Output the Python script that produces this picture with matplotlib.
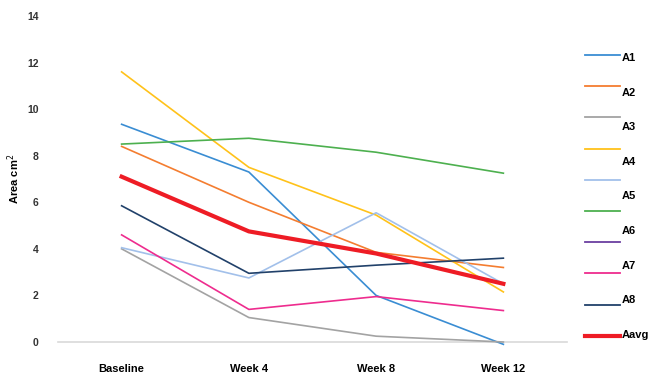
import numpy as np
import matplotlib.pyplot as plt
from matplotlib.lines import Line2D

plt.rcParams['font.family'] = ['Liberation Sans', 'DejaVu Sans']

# 时间点
weeks = ['Baseline', 'Week 4', 'Week 8', 'Week 12']

# 各样本面积 (cm²)
a1 = [9.35, 7.3, 2.0, -0.1]
a2 = [8.4, 6.0, 3.85, 3.2]
a3 = [4.0, 1.05, 0.25, 0.0]
a4 = [11.6, 7.5, 5.45, 2.15]
a5 = [4.05, 2.75, 5.55, 2.5]
a6 = [8.5, 8.75, 8.15, 7.25]
a7 = [4.6, 1.4, 1.95, 1.35]
a8 = [5.85, 2.95, 3.3, 3.6]
a_avg = [7.1, 4.75, 3.8, 2.5]

series = [a1, a2, a3, a4, a5, a6, a7, a8]
colors = ['#3A8DD3', '#F47D30', '#A3A3A3', '#FFC21A', '#A2C0EA',
          '#4DB04F', '#EE2C8E', '#21416A']
# 图例颜色（含一条没有数据的紫色序列）
legend_colors = ['#3A8DD3', '#F47D30', '#A3A3A3', '#FFC21A', '#A2C0EA',
                 '#4DB04F', '#6B3FA0', '#EE2C8E', '#21416A', '#EE1C25']
legend_labels = ['A1', 'A2', 'A3', 'A4', 'A5', 'A6', 'A7', 'A8', 'Aavg']

fig = plt.figure(figsize=(6.59, 3.81), dpi=100)
ax = fig.add_axes([58 / 659, 1 - 342 / 381, 509 / 659, 326 / 381])

x = np.arange(len(weeks))
for vals, c in zip(series, colors):
    ax.plot(x, vals, color=c, lw=1.2, clip_on=False)
ax.plot(x, a_avg, color='#EE1C25', lw=3.0, clip_on=False)

ax.set_xlim(-0.5, 3.5)
ax.set_ylim(0, 14)
ax.set_yticks(range(0, 15, 2))
ax.set_xticks(x)
ax.set_xticklabels(weeks, fontsize=8, fontweight='bold')
for lab in ax.get_yticklabels():
    lab.set_fontsize(7.5)
    lab.set_fontweight('bold')
    lab.set_color('#333333')
ax.tick_params(axis='both', length=0)
ax.tick_params(axis='x', pad=16)
ax.tick_params(axis='y', pad=14)
for s in ['top', 'right', 'left']:
    ax.spines[s].set_visible(False)
ax.spines['bottom'].set_color('#D9D9D9')
ax.spines['bottom'].set_linewidth(1.2)
ax.spines['bottom'].set_zorder(1)
ax.set_ylabel('Area cm$^2$', fontsize=8, fontweight='bold', labelpad=4)

# 手动绘制图例
for i, c in enumerate(legend_colors):
    yy = 1 - (55 + i * 31.2) / 381
    lw = 3.0 if c == '#EE1C25' else 1.3
    fig.add_artist(Line2D([585 / 659, 620 / 659], [yy, yy], color=c, lw=lw))
for i, t in enumerate(legend_labels):
    yy = 1 - (58 + i * 34.6) / 381
    fig.text(622 / 659, yy, t, fontsize=8, fontweight='bold', va='center', ha='left')

fig.savefig('out.png', dpi=100)
